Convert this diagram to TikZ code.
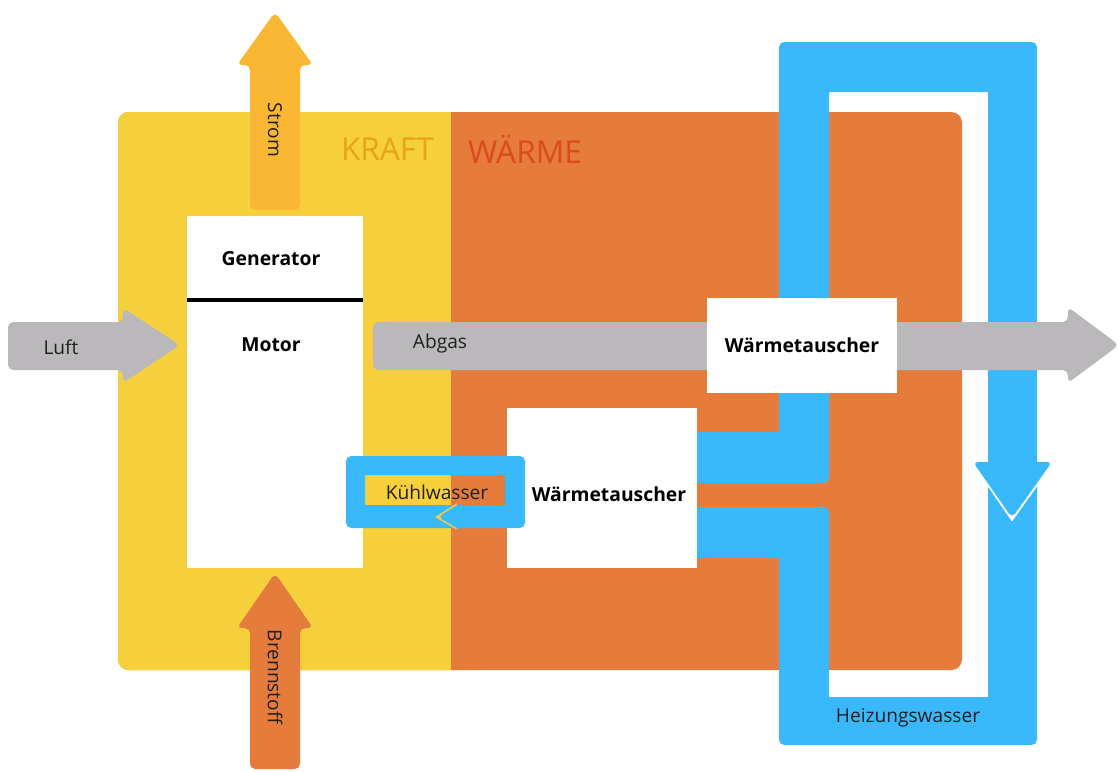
\documentclass[tikz,border=0pt]{standalone}
\usepackage{fontspec}
\setmainfont{Open Sans}
\usepackage{xcolor}
\usepackage{tikz}
\definecolor{kraftgelb}{HTML}{F6D03C}
\definecolor{waermeorange}{HTML}{E67C3C}
\definecolor{stromgelb}{HTML}{F9B733}
\definecolor{wasserblau}{HTML}{39B9FB}
\definecolor{abgasgrau}{HTML}{BAB8BA}
\definecolor{kraftschrift}{HTML}{E8A416}
\definecolor{waermeschrift}{HTML}{DA4A1E}

\begin{document}
\begin{tikzpicture}[
  x=0.02cm, y=-0.02cm,
  box/.style={rectangle, fill=white, inner sep=0pt, font=\fontsize{11}{13}\selectfont\bfseries},
  lbl/.style={font=\fontsize{10.9}{13}\selectfont, text=black!88},
  bold/.style={font=\fontsize{11}{13}\selectfont\bfseries, text=black},
  area/.style={font=\fontsize{18}{20}\selectfont, text=#1},
  flow/.style={fill=#1, rounded corners=3pt},
]
  \useasboundingbox (0,0) rectangle (1119,771);

  % Kraft / Waerme areas
  \fill[waermeorange, rounded corners=6pt] (118,112) rectangle (962,670);
  \fill[kraftgelb, rounded corners=6pt] (118,112) rectangle (480,670);
  \fill[waermeorange] (451,112) rectangle (500,670);
  \node[area=kraftschrift, anchor=east] (kraft) at (440,149) {KRAFT};
  \node[area=waermeschrift, anchor=west] (waerme) at (462,149) {WÄRME};

  % Strom and Brennstoff
  \fill[flow=stromgelb] (250,210) -- (250,65) -- (237,65) -- (275,12)
    -- (313,65) -- (300,65) -- (300,210) -- cycle;
  \fill[flow=waermeorange] (250,769) -- (250,628) -- (237,628) -- (275,573)
    -- (313,628) -- (300,628) -- (300,769) -- cycle;
  \node[lbl, rotate=-90] (strom) at (275,130) {Strom};
  \node[lbl, rotate=-90] (brennstoff) at (275,677) {Brennstoff};

  % Heizungswasser loop, one bar at a time
  \fill[flow=wasserblau]
    (779,42) rectangle (829,483)    % up, left
    (690,432) rectangle (829,483)   % from the lower exchanger
    (779,42) rectangle (1037,92)    % top
    (988,42) rectangle (1037,745)   % down, right
    (779,697) rectangle (1037,745)  % bottom
    (779,507) rectangle (829,745)   % up, left
    (690,507) rectangle (829,558);  % into the lower exchanger
  \draw[white, line width=0.08cm] (988,483) -- (1012,518) -- (1037,483);
  \fill[flow=wasserblau] (973,462) -- (1052,462) -- (1012,518) -- cycle;
  \node[lbl] (heizung) at (908,718) {Heizungswasser};

  % Luft and Abgas
  \fill[flow=abgasgrau] (8,322) -- (123,322) -- (123,308) -- (180,345)
    -- (123,383) -- (123,370) -- (8,370) -- cycle;
  \fill[flow=abgasgrau] (373,322) -- (1068,322) -- (1068,307) -- (1119,345)
    -- (1068,383) -- (1068,370) -- (373,370) -- cycle;
  \node[lbl] (luft) at (61,347) {Luft};
  \node[lbl] (abgas) at (440,344) {Abgas};

  % machines
  \node[box, minimum width=3.52cm, minimum height=7.04cm] (motor) at (275,392) {};
  \draw[line width=0.08cm] (motor.west |- 0,300) -- (motor.east |- 0,300);
  \node[bold] (generator) at (271,259) {Generator};
  \node[bold] (motorlbl) at (271,345) {Motor};
  \node[box, minimum width=3.8cm, minimum height=1.9cm] (wt1) at (802,345.5) {Wärmetauscher};
  \node[box, minimum width=3.8cm, minimum height=3.2cm] (wt2) at (602,488) {};
  \node[bold] (wt2lbl) at (609,494) {Wärmetauscher};

  % Kuehlwasser loop
  \fill[wasserblau, even odd rule, rounded corners=3pt] (346,456) rectangle (525,528)
    [sharp corners] (365,475) rectangle (505,505);
  \draw[kraftgelb, line width=0.06cm] (457,505) -- (438,517) -- (457,528);
  \fill[flow=wasserblau] (462,502) -- (438,517) -- (462,531) -- cycle;
  \node[lbl] (kuehl) at (437,492) {Kühlwasser};
\end{tikzpicture}
\end{document}
